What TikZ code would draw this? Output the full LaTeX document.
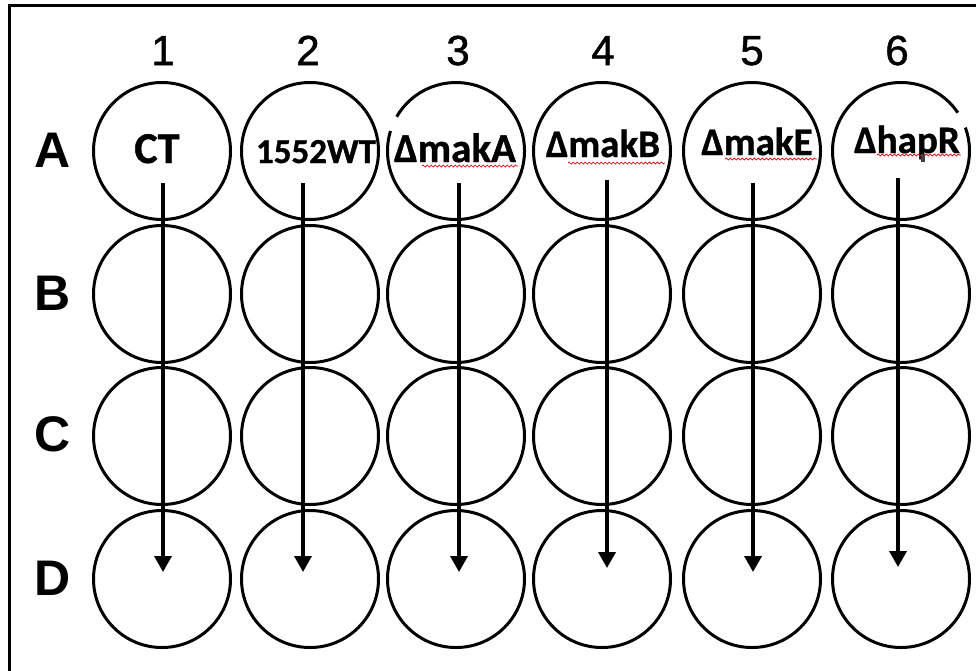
\documentclass[tikz,border=0pt]{standalone}
\usepackage{fontspec}
\setmainfont{Liberation Sans}
\newfontfamily\numfont[FakeBold=1.2]{Liberation Sans}
\newfontfamily\calib[BoldFeatures={FakeBold=1}]{Carlito}
\usetikzlibrary{arrows.meta,decorations.pathmorphing}
\begin{document}
\begin{tikzpicture}[x=1pt,y=-1pt,
  well/.style={circle,draw,line width=3pt,minimum size=137pt,inner sep=0pt},
  colnum/.style={anchor=base,inner sep=0pt,font=\numfont\fontsize{42pt}{42pt}\selectfont},
  rowlet/.style={anchor=base,inner sep=0pt,font=\fontsize{50pt}{50pt}\selectfont\bfseries},
  strain/.style={anchor=base,inner sep=0pt,font=\calib\bfseries\fontsize{#1}{#1}\selectfont},
  flow/.style={line width=3.5pt,-{Triangle[width=17pt,length=16pt]}},
  squig/.style={red!85!black,line width=0.7pt,decorate,decoration={snake,segment length=4pt,amplitude=1pt}}]
\useasboundingbox (0,0) rectangle (976,670);
\fill[white] (0,0) rectangle (976,670);
% frame
\draw[line width=3pt,line join=miter] (9,672) -- (9,5) -- (978,5);
% column numbers
\foreach \c/\x in {1/163,2/308,3/458,4/603,5/752,6/897}
  \node[colnum] (n\c) at (\x,65) {\c};
% row letters
\foreach \r/\y in {A/167,B/310,C/451,D/595}
  \node[rowlet] (r\r) at (53,\y) {\r};
% wells rows B-D
\foreach \r/\y in {B/294,C/436,D/579}
  \foreach \c/\x in {1/162,2/310,3/456,4/602,5/752,6/901}
    \node[well] (\r\c) at (\x,\y) {};
% wells row A
\foreach \c/\x in {1/162,2/310,4/602,5/752}
  \node[well] (A\c) at (\x,151) {};
\node[well,draw=none] (A3) at (456,151) {};
\node[well,draw=none] (A6) at (901,151) {};
\draw[line width=3pt] ([shift={(163:68.5pt)}]A3.center) arc[start angle=163,end angle=510,radius=68.5pt];
\draw[line width=3pt] ([shift={(34:68.5pt)}]A6.center) arc[start angle=34,end angle=380,radius=68.5pt];
% strain labels
\node[strain=44pt] (l1) at (157,163) {CT};
\node[strain=35pt] (l2) at (316,163) {1552WT};
\node[strain=41pt] (l3) at (455,162) {ΔmakA};
\node[strain=39pt] (l4) at (603,157) {ΔmakB};
\node[strain=39pt] (l5) at (757,155) {ΔmakE};
\node[strain=39pt] (l6) at (907,153) {ΔhapR};
% spell-check squiggles
\draw[squig] (422,166) -- (518,166);
\draw[squig] (568,163) -- (665,163);
\draw[squig] (725,159) -- (817,159);
\draw[squig] (877,155) -- (961,155);
\fill[black!75] (921,154) rectangle (925,162);
% arrows
\foreach \c/\x/\ys/\ye in {1/163/183/572,2/303/183/572,3/459/183/572,4/607/180/568,5/753/183/572,6/898/178/567}{
  \coordinate (s\c) at (\x,\ys);
  \coordinate (e\c) at (\x,\ye);
  \draw[flow] (s\c) -- (e\c);
}
\end{tikzpicture}
\end{document}
